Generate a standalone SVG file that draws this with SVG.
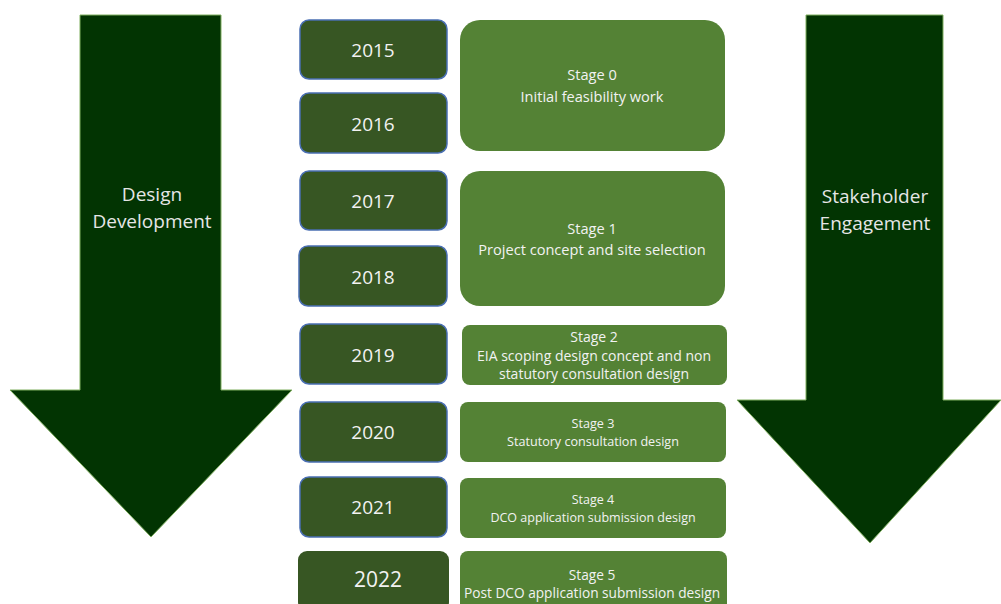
<svg xmlns="http://www.w3.org/2000/svg" width="1001" height="604" viewBox="0 0 1001 604">
<style>
.arrow{fill:#023402;stroke:#7fae5f;stroke-width:1}
.year{fill:#375623;stroke:#4a6fb3;stroke-width:1.5}
.stage{fill:#548235}
.yt{font-family:"Open Sans","Noto Sans",sans-serif;font-size:19px;fill:#f2f2f2;text-anchor:middle}
.st{font-family:"Open Sans","Noto Sans",sans-serif;font-size:13px;fill:#f2f2f2;text-anchor:middle}
.at{font-family:"Open Sans","Noto Sans",sans-serif;font-size:19px;fill:#e6e6e6;text-anchor:middle}
</style>
<rect width="1001" height="604" fill="#ffffff"/>
<g id="arrow-design">
<path class="arrow" d="M80,15 H221 V390 H292 L151,537 L10,390 H80 Z"/>
<text class="at" x="152" y="201">Design</text>
<text class="at" x="152" y="228">Development</text>
</g>
<g id="arrow-stakeholder">
<path class="arrow" d="M806,15 H943 V400 H1001 L870,543 L737,400 H806 Z"/>
<text class="at" x="875" y="203">Stakeholder</text>
<text class="at" x="875" y="230">Engagement</text>
</g>
<g id="y2015"><rect class="year" x="300" y="20" width="147" height="59" rx="9"/><text class="yt" x="373" y="57">2015</text></g>
<g id="y2016"><rect class="year" x="300" y="93" width="147" height="60" rx="9"/><text class="yt" x="373" y="131">2016</text></g>
<g id="y2017"><rect class="year" x="300" y="171" width="147" height="59" rx="9"/><text class="yt" x="373" y="208">2017</text></g>
<g id="y2018"><rect class="year" x="299" y="246" width="148" height="60" rx="9"/><text class="yt" x="373" y="284">2018</text></g>
<g id="y2019"><rect class="year" x="300" y="324" width="147" height="60" rx="9"/><text class="yt" x="373" y="362">2019</text></g>
<g id="y2020"><rect class="year" x="300" y="402" width="147" height="60" rx="9"/><text class="yt" x="373" y="439">2020</text></g>
<g id="y2021"><rect class="year" x="300" y="477" width="147" height="60" rx="9"/><text class="yt" x="373" y="514">2021</text></g>
<g id="y2022"><rect x="298" y="551" width="151" height="60" rx="9" fill="#375623"/><text class="yt" x="378" y="587" style="font-size:21px">2022</text></g>
<g id="stage0"><rect class="stage" x="460" y="20" width="265" height="131" rx="20"/><text class="st" x="592" y="80" style="font-size:14.6px">Stage 0</text><text class="st" x="592" y="102" style="font-size:14.6px">Initial feasibility work</text></g>
<g id="stage1"><rect class="stage" x="460" y="171" width="265" height="135" rx="20"/><text class="st" x="592" y="234" style="font-size:14.6px">Stage 1</text><text class="st" x="592" y="255" style="font-size:14.6px">Project concept and site selection</text></g>
<g id="stage2"><rect class="stage" x="462" y="325" width="265" height="60" rx="8"/><text class="st" x="594" y="342" style="font-size:14px">Stage 2</text><text class="st" x="594" y="361" style="font-size:14px">EIA scoping design concept and non</text><text class="st" x="594" y="379" style="font-size:14px">statutory consultation design</text></g>
<g id="stage3"><rect class="stage" x="460" y="402" width="266" height="60" rx="8"/><text class="st" x="593" y="428" style="font-size:12.6px">Stage 3</text><text class="st" x="593" y="446" style="font-size:12.6px">Statutory consultation design</text></g>
<g id="stage4"><rect class="stage" x="460" y="478" width="266" height="60" rx="8"/><text class="st" x="593" y="504" style="font-size:12.5px">Stage 4</text><text class="st" x="593" y="522" style="font-size:12.5px">DCO application submission design</text></g>
<g id="stage5"><rect class="stage" x="460" y="551" width="267" height="60" rx="8"/><text class="st" x="592" y="580" style="font-size:13.7px">Stage 5</text><text class="st" x="592" y="598" style="font-size:13.7px">Post DCO application submission design</text></g>
<g id="connectors"></g>
</svg>
